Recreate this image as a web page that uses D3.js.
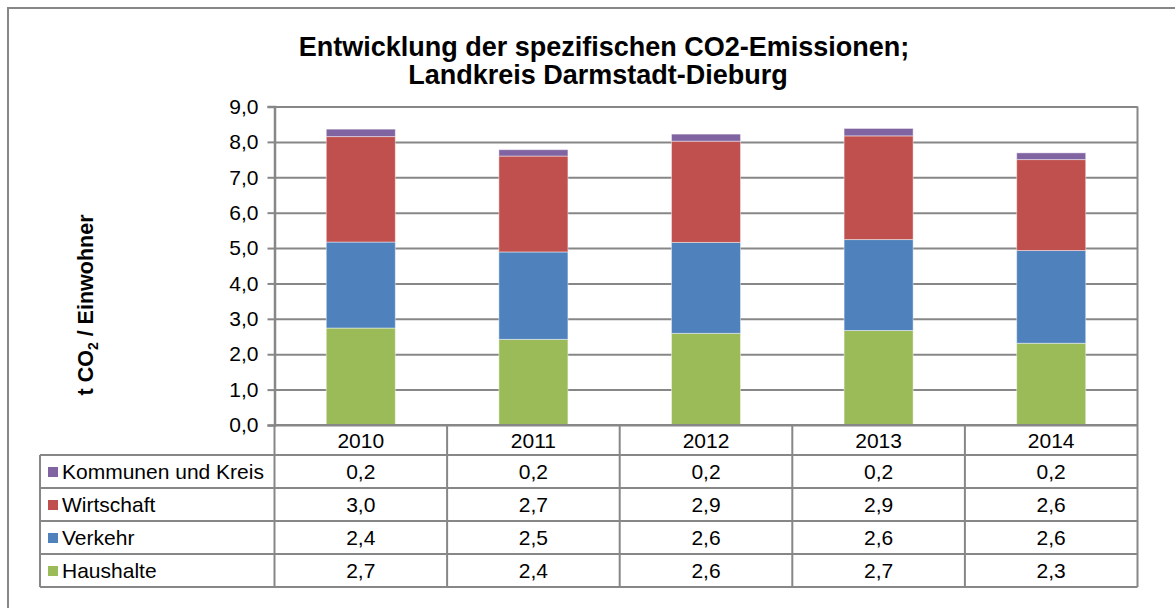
<!DOCTYPE html>
<html>
<head>
<meta charset="utf-8">
<script src="https://cdn.jsdelivr.net/npm/d3@7"></script>
<style>
  body { margin: 0; background: #fff; }
  svg { display: block; font-family: "Liberation Sans", Arial, sans-serif; }
</style>
</head>
<body>
<div id="container"></div>
<script>
var years = ["2010", "2011", "2012", "2013", "2014"];
var haushalte = [2.74, 2.42, 2.59, 2.67, 2.31];
var verkehr = [2.43, 2.47, 2.57, 2.57, 2.62];
var wirtschaft = [2.98, 2.71, 2.86, 2.93, 2.57];
var kommunen = [0.21, 0.18, 0.20, 0.21, 0.19];
var seriesNames = ["Haushalte", "Verkehr", "Wirtschaft", "Kommunen und Kreis"];
var yTicks = [0, 1, 2, 3, 4, 5, 6, 7, 8, 9];

var colors = {
  "Haushalte": "#9bbb59",
  "Verkehr": "#4f81bd",
  "Wirtschaft": "#c0504d",
  "Kommunen und Kreis": "#8064a2"
};
var seriesData = {
  "Haushalte": haushalte,
  "Verkehr": verkehr,
  "Wirtschaft": wirtschaft,
  "Kommunen und Kreis": kommunen
};

(function() {
  var width = 1175, height = 608;
  var plotLeft = 274.5, plotRight = 1137.5, plotTop = 106.5, plotBottom = 425;
  var rowH = 33, headH = 30;
  var tableLeft = 40;
  var grey = "#878787";
  var fs = "21px";

  var rows = years.map(function(yr, i) {
    var r = { year: yr };
    seriesNames.forEach(function(s) { r[s] = seriesData[s][i]; });
    return r;
  });

  var svg = d3.select("#container").append("svg")
    .attr("width", width)
    .attr("height", height);

  // outer chart border
  svg.append("rect")
    .attr("x", 8).attr("y", 8)
    .attr("width", 1190).attr("height", 640)
    .attr("fill", "none")
    .attr("stroke", grey)
    .attr("stroke-width", 2);

  var x = d3.scaleBand()
    .domain(years)
    .range([plotLeft, plotRight])
    .paddingInner(0.6)
    .paddingOuter(0.3);

  var y = d3.scaleLinear()
    .domain([0, 9])
    .range([plotBottom, plotTop]);

  var fmt = function(v) { return d3.format(".1f")(v).replace(".", ","); };

  // gridlines
  svg.append("g")
    .attr("transform", "translate(" + plotLeft + ",0)")
    .call(d3.axisLeft(y).tickValues(yTicks).tickSize(-(plotRight - plotLeft)).tickFormat(""))
    .call(function(g) { g.select(".domain").remove(); })
    .selectAll("line")
    .attr("stroke", grey)
    .attr("stroke-width", 2);

  // plot area right border
  svg.append("line")
    .attr("x1", plotRight).attr("x2", plotRight)
    .attr("y1", plotTop).attr("y2", plotBottom)
    .attr("stroke", grey).attr("stroke-width", 2);

  // stacked bars
  var layers = d3.stack().keys(seriesNames)(rows);

  svg.append("g")
    .selectAll("g")
    .data(layers)
    .enter()
    .append("g")
    .attr("fill", function(d) { return colors[d.key]; })
    .selectAll("rect")
    .data(function(d) { return d; })
    .enter()
    .append("rect")
    .attr("x", function(d) { return x(d.data.year); })
    .attr("y", function(d) { return y(d[1]); })
    .attr("width", x.bandwidth())
    .attr("height", function(d) { return y(d[0]) - y(d[1]); })
    .attr("stroke", "rgba(255,255,255,0.45)")
    .attr("stroke-width", 1);

  // y axis
  var yAxis = svg.append("g")
    .attr("transform", "translate(" + plotLeft + ",0)")
    .call(d3.axisLeft(y).tickValues(yTicks).tickSize(7).tickPadding(9).tickFormat(fmt));
  yAxis.select(".domain")
    .attr("stroke", grey).attr("stroke-width", 2.5);
  yAxis.selectAll(".tick line")
    .attr("stroke", grey).attr("stroke-width", 2);
  yAxis.selectAll(".tick text")
    .attr("fill", "#000")
    .style("font-size", fs)
    .style("font-family", "'Liberation Sans', Arial, sans-serif");

  // data table
  var step = x.step();
  var colEdges = years.map(function(yr) { return x(yr) - step * 0.3; });
  colEdges.push(plotRight);
  var tableTop = plotBottom + headH;
  var tableBottom = tableTop + rowH * 4;
  var tableRows = ["Kommunen und Kreis", "Wirtschaft", "Verkehr", "Haushalte"];

  var table = svg.append("g")
    .attr("stroke", grey)
    .attr("stroke-width", 2);

  colEdges.forEach(function(cx) {
    table.append("line")
      .attr("x1", cx).attr("x2", cx)
      .attr("y1", plotBottom).attr("y2", tableBottom);
  });
  table.append("line")
    .attr("x1", tableLeft).attr("x2", tableLeft)
    .attr("y1", tableTop).attr("y2", tableBottom);
  table.append("line")
    .attr("x1", plotLeft).attr("x2", plotRight)
    .attr("y1", plotBottom).attr("y2", plotBottom);
  for (var r = 0; r <= 4; r++) {
    table.append("line")
      .attr("x1", tableLeft).attr("x2", plotRight)
      .attr("y1", tableTop + r * rowH).attr("y2", tableTop + r * rowH);
  }

  svg.append("g")
    .selectAll("text")
    .data(years)
    .enter()
    .append("text")
    .attr("x", function(d) { return x(d) + x.bandwidth() / 2; })
    .attr("y", plotBottom + 23)
    .attr("text-anchor", "middle")
    .style("font-size", fs)
    .text(function(d) { return d; });

  tableRows.forEach(function(name, i) {
    var ry = tableTop + i * rowH;
    svg.append("rect")
      .attr("x", 48).attr("y", ry + 12)
      .attr("width", 10).attr("height", 10)
      .attr("fill", colors[name]);
    svg.append("text")
      .attr("x", 62).attr("y", ry + 24)
      .style("font-size", fs)
      .text(name);
    svg.append("g")
      .selectAll("text")
      .data(seriesData[name])
      .enter()
      .append("text")
      .attr("x", function(d, j) { return x(years[j]) + x.bandwidth() / 2; })
      .attr("y", ry + 24)
      .attr("text-anchor", "middle")
      .style("font-size", fs)
      .text(function(d) { return fmt(d); });
  });

  // title
  var title = svg.append("text")
    .attr("text-anchor", "middle")
    .style("font-size", "27px")
    .style("font-weight", "bold");
  title.append("tspan").attr("x", 604).attr("y", 56).text("Entwicklung der spezifischen CO2-Emissionen;");
  title.append("tspan").attr("x", 598).attr("y", 84).text("Landkreis Darmstadt-Dieburg");

  // y axis label
  var ylab = svg.append("text")
    .attr("transform", "translate(93,305) rotate(-90)")
    .attr("text-anchor", "middle")
    .style("font-size", "21.5px")
    .style("font-weight", "bold");
  ylab.append("tspan").text("t CO");
  ylab.append("tspan").attr("dy", 5).style("font-size", "14px").text("2");
  ylab.append("tspan").attr("dy", -5).text(" / Einwohner");
})();
</script>
</body>
</html>
